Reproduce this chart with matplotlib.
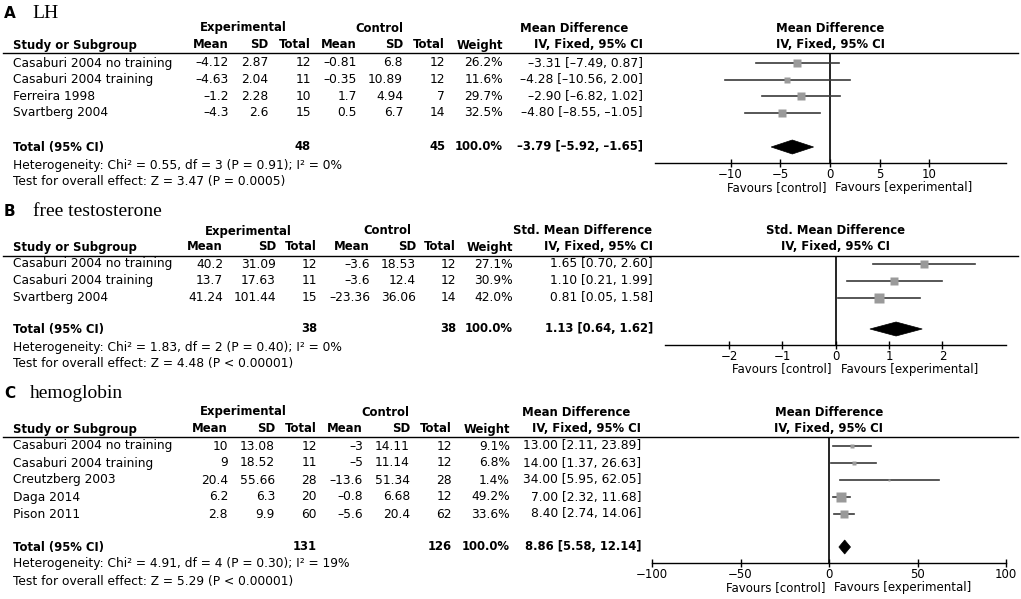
import numpy as np
import matplotlib
matplotlib.use("Agg")
import matplotlib.pyplot as plt
from matplotlib.patches import Polygon

# ---------------- data ----------------
# A: LH
lh_studies = ["Casaburi 2004 no training", "Casaburi 2004 training", "Ferreira 1998", "Svartberg 2004"]
lh_exp_mean = [-4.12, -4.63, -1.2, -4.3]
lh_exp_sd = [2.87, 2.04, 2.28, 2.6]
lh_exp_n = [12, 11, 10, 15]
lh_ctl_mean = [-0.81, -0.35, 1.7, 0.5]
lh_ctl_sd = [6.8, 10.89, 4.94, 6.7]
lh_ctl_n = [12, 12, 7, 14]
lh_weight = [26.2, 11.6, 29.7, 32.5]
lh_md = [-3.31, -4.28, -2.90, -4.80]
lh_lo = [-7.49, -10.56, -6.82, -8.55]
lh_hi = [0.87, 2.00, 1.02, -1.05]
lh_total_n = [48, 45]
lh_total_ci = [-3.79, -5.92, -1.65]
lh_het = "Heterogeneity: Chi\u00b2 = 0.55, df = 3 (P = 0.91); I\u00b2 = 0%"
lh_test = "Test for overall effect: Z = 3.47 (P = 0.0005)"
lh_ticks = [-10, -5, 0, 5, 10]

# B: free testosterone
ft_studies = ["Casaburi 2004 no training", "Casaburi 2004 training", "Svartberg 2004"]
ft_exp_mean = [40.2, 13.7, 41.24]
ft_exp_sd = [31.09, 17.63, 101.44]
ft_exp_n = [12, 11, 15]
ft_ctl_mean = [-3.6, -3.6, -23.36]
ft_ctl_sd = [18.53, 12.4, 36.06]
ft_ctl_n = [12, 12, 14]
ft_weight = [27.1, 30.9, 42.0]
ft_md = [1.65, 1.10, 0.81]
ft_lo = [0.70, 0.21, 0.05]
ft_hi = [2.60, 1.99, 1.58]
ft_total_n = [38, 38]
ft_total_ci = [1.13, 0.64, 1.62]
ft_het = "Heterogeneity: Chi\u00b2 = 1.83, df = 2 (P = 0.40); I\u00b2 = 0%"
ft_test = "Test for overall effect: Z = 4.48 (P < 0.00001)"
ft_ticks = [-2, -1, 0, 1, 2]

# C: hemoglobin
hb_studies = ["Casaburi 2004 no training", "Casaburi 2004 training", "Creutzberg 2003", "Daga 2014", "Pison 2011"]
hb_exp_mean = [10, 9, 20.4, 6.2, 2.8]
hb_exp_sd = [13.08, 18.52, 55.66, 6.3, 9.9]
hb_exp_n = [12, 11, 28, 20, 60]
hb_ctl_mean = [-3, -5, -13.6, -0.8, -5.6]
hb_ctl_sd = [14.11, 11.14, 51.34, 6.68, 20.4]
hb_ctl_n = [12, 12, 28, 12, 62]
hb_weight = [9.1, 6.8, 1.4, 49.2, 33.6]
hb_md = [13.00, 14.00, 34.00, 7.00, 8.40]
hb_lo = [2.11, 1.37, 5.95, 2.32, 2.74]
hb_hi = [23.89, 26.63, 62.05, 11.68, 14.06]
hb_total_n = [131, 126]
hb_total_ci = [8.86, 5.58, 12.14]
hb_het = "Heterogeneity: Chi\u00b2 = 4.91, df = 4 (P = 0.30); I\u00b2 = 19%"
hb_test = "Test for overall effect: Z = 5.29 (P < 0.00001)"
hb_ticks = [-100, -50, 0, 50, 100]

W, H = 1021, 599
FS = 8.8    # regular table text
FSB = 8.4   # bold header text
FAM = ["DejaVu Sans"]


def num(v):
    return f"{v:g}".replace("-", "\u2013")


def ci(m, l, h):
    return f"{m:.2f} [{l:.2f}, {h:.2f}]".replace("-", "\u2013")


fig = plt.figure(figsize=(W / 100, H / 100), dpi=100)
bg = fig.add_axes([0, 0, 1, 1])
bg.set_xlim(0, W)
bg.set_ylim(H, 0)
bg.axis("off")


def panel(letter, title, effect, studies, em, esd, en, cm, csd, cn, wt, md, lo, hi,
          tot_n, tot_ci, het, test, ticks, lay):
    cols = lay["cols"]
    bg.text(4, lay["title"], letter, fontsize=11, fontweight="bold", family=FAM, va="center")
    bg.text(lay["title_x"], lay["title"], title, fontsize=14, family=["Liberation Serif"], va="center")
    # group headers
    bg.text(lay["grp"][0], lay["g_y"], "Experimental", fontsize=FSB, fontweight="bold", ha="center", va="center")
    bg.text(lay["grp"][1], lay["g_y"], "Control", fontsize=FSB, fontweight="bold", ha="center", va="center")
    bg.text(lay["grp"][2], lay["g_y"], effect, fontsize=FSB, fontweight="bold", ha="center", va="center")
    bg.text(13, lay["h_y"], "Study or Subgroup", fontsize=FSB, fontweight="bold", va="center")
    heads = ["Mean", "SD", "Total", "Mean", "SD", "Total", "Weight", "IV, Fixed, 95% CI"]
    for x, h in zip(cols, heads):
        bg.text(x, lay["h_y"], h, fontsize=FSB, fontweight="bold", ha="right", va="center")
    bg.plot([3, 1018], [lay["line"], lay["line"]], color="black", lw=1.0)

    rows = [lay["r0"] + i * lay["dy"] for i in range(len(studies))]
    for i, y in enumerate(rows):
        bg.text(13, y, studies[i], fontsize=FS, va="center")
        vals = [num(em[i]), num(esd[i]), str(en[i]), num(cm[i]), num(csd[i]), str(cn[i]),
                f"{wt[i]:.1f}%", ci(md[i], lo[i], hi[i])]
        for x, s in zip(cols, vals):
            bg.text(x, y, s, fontsize=FS, ha="right", va="center")
    ty = lay["tot"]
    bg.text(13, ty, "Total (95% CI)", fontsize=FSB, fontweight="bold", va="center")
    for x, s in zip([cols[2], cols[5], cols[6], cols[7]],
                    [str(tot_n[0]), str(tot_n[1]), "100.0%", ci(*tot_ci)]):
        bg.text(x, ty, s, fontsize=FSB, fontweight="bold", ha="right", va="center")
    bg.text(13, lay["het"], het, fontsize=FS, va="center")
    bg.text(13, lay["test"], test, fontsize=FS, va="center")

    # forest plot
    left, right = lay["ax_x"]
    top, bot = lay["line"], lay["axis"]
    ax = fig.add_axes([left / W, (H - bot) / H, (right - left) / W, (bot - top) / H])
    ax.patch.set_alpha(0)
    ax.set_xlim(*lay["xlim"])
    ax.set_ylim(bot, top)
    for s in ["top", "left", "right"]:
        ax.spines[s].set_visible(False)
    ax.spines["bottom"].set_linewidth(1.0)
    ax.set_yticks([])
    ax.set_xticks(ticks)
    ax.tick_params(axis="x", direction="inout", length=6, width=1.0, pad=0.5, labelsize=8.5)
    ax.axvline(0, color="black", lw=1.2)
    for i, y in enumerate(rows):
        ax.plot([lo[i], hi[i]], [y, y], color="#3a3a3a", lw=1.2)
        ax.plot(md[i], y, marker="s", ms=1.0 * np.sqrt(wt[i]) + 0.4, color="#9a9a9a", mec="none")
    m, l, h = tot_ci
    dh = 7
    ax.add_patch(Polygon([(l, ty), (m, ty - dh), (h, ty), (m, ty + dh)], closed=True,
                         facecolor="black", edgecolor="black", lw=0.5))
    ax.annotate(effect, xy=(0, 1), xycoords=("data", "axes fraction"),
                xytext=(0, top - lay["g_y"]), textcoords="offset pixels",
                ha="center", va="center", fontsize=FSB, fontweight="bold")
    ax.annotate("IV, Fixed, 95% CI", xy=(0, 1), xycoords=("data", "axes fraction"),
                xytext=(0, top - lay["h_y"]), textcoords="offset pixels",
                ha="center", va="center", fontsize=FSB, fontweight="bold")
    ax.annotate("Favours [control]", xy=(0, 0), xycoords=("data", "axes fraction"),
                xytext=(-4, -lay["fav"]), textcoords="offset pixels",
                ha="right", va="center", fontsize=8.5)
    ax.annotate("Favours [experimental]", xy=(0, 0), xycoords=("data", "axes fraction"),
                xytext=(5, -lay["fav"]), textcoords="offset pixels",
                ha="left", va="center", fontsize=8.5)
    return ax


panel("A", "LH", "Mean Difference", lh_studies, lh_exp_mean, lh_exp_sd, lh_exp_n,
      lh_ctl_mean, lh_ctl_sd, lh_ctl_n, lh_weight, lh_md, lh_lo, lh_hi,
      lh_total_n, lh_total_ci, lh_het, lh_test, lh_ticks,
      dict(title=13, title_x=32, g_y=28, h_y=45, line=53, r0=63, dy=16.6, tot=147,
           het=165, test=182, axis=163, fav=25, ax_x=(655, 1006), xlim=(-17.6, 17.7),
           cols=[229, 268, 311, 357, 403, 445, 503, 643], grp=[243, 379, 574]))

panel("B", "free testosterone", "Std. Mean Difference", ft_studies, ft_exp_mean, ft_exp_sd, ft_exp_n,
      ft_ctl_mean, ft_ctl_sd, ft_ctl_n, ft_weight, ft_md, ft_lo, ft_hi,
      ft_total_n, ft_total_ci, ft_het, ft_test, ft_ticks,
      dict(title=212, title_x=33, g_y=231, h_y=247, line=256, r0=264, dy=16.8, tot=329,
           het=347, test=363, axis=345, fav=24, ax_x=(665, 1006), xlim=(-3.2, 3.19),
           cols=[223, 276, 317, 370, 416, 456, 513, 653], grp=[248, 387, 582]))

panel("C", "hemoglobin", "Mean Difference", hb_studies, hb_exp_mean, hb_exp_sd, hb_exp_n,
      hb_ctl_mean, hb_ctl_sd, hb_ctl_n, hb_weight, hb_md, hb_lo, hb_hi,
      hb_total_n, hb_total_ci, hb_het, hb_test, hb_ticks,
      dict(title=394, title_x=30, g_y=412, h_y=429, line=437, r0=446, dy=17, tot=547,
           het=564, test=581, axis=563, fav=25, ax_x=(652, 1006), xlim=(-100, 100),
           cols=[228, 275, 317, 363, 410, 452, 510, 641], grp=[243, 385, 576]))

fig.savefig("out.png", dpi=100)
